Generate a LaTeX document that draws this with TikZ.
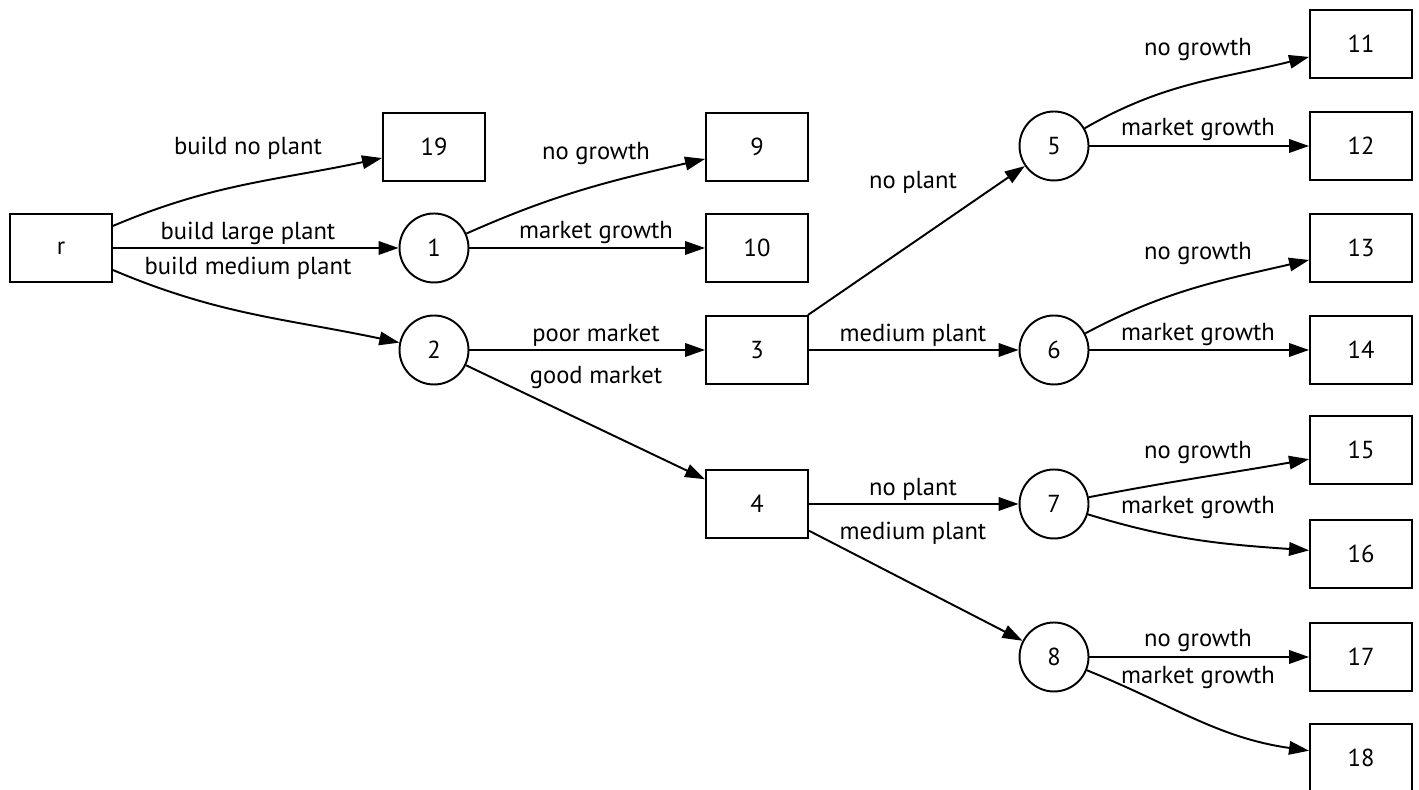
\documentclass[tikz,border=0pt]{standalone}
\usepackage{fontspec}
\setmainfont{PT Sans}
\usetikzlibrary{positioning,arrows.meta}

\begin{document}
\begin{tikzpicture}[x=0.02cm,y=0.02cm,
    font=\fontsize{14}{16}\selectfont,
    line width=1.1pt,
    box/.style={draw, minimum width=2.04cm, minimum height=1.36cm, inner sep=0},
    chance/.style={draw, circle, minimum size=1.38cm, inner sep=0},
    arr/.style={-{Triangle[length=0.4cm,width=0.27cm]}}]

\useasboundingbox (0,0) rectangle (1419,790);

% Root decision
\node[box] (blockr) at (61,542) {r};

% Chance nodes
\node[chance] (block1) at (434,542) {1};
\node[chance] (block2) at (434,440) {2};
\node[chance] (block5) at (1054,644) {5};
\node[chance] (block6) at (1054,440) {6};
\node[chance] (block7) at (1054,286) {7};
\node[chance] (block8) at (1054,133) {8};

% Decision and end blocks
\node[box] (block19) at (434,643) {19};
\node[box] (block9) at (757,643) {9};
\node[box] (block10) at (757,542) {10};
\node[box] (block3) at (757,440) {3};
\node[box] (block4) at (757,286) {4};
\node[box] (block11) at (1361,746) {11};
\node[box] (block12) at (1361,644) {12};
\node[box] (block13) at (1361,542) {13};
\node[box] (block14) at (1361,440) {14};
\node[box] (block15) at (1361,340) {15};
\node[box] (block16) at (1361,236) {16};
\node[box] (block17) at (1361,133) {17};
\node[box] (block18) at (1361,32) {18};

% Edge labels
\node (lab1) at (248,642) {build no plant};
\node (lab2) at (248,557) {build large plant};
\node (lab3) at (248,522) {build medium plant};
\node (lab4) at (596,636) {no growth};
\node (lab5) at (596,557) {market growth};
\node (lab6) at (596,455) {poor market};
\node (lab7) at (596,412) {good market};
\node (lab8) at (913,608) {no plant};
\node (lab9) at (913,455) {medium plant};
\node (lab10) at (913,301) {no plant};
\node (lab11) at (913,257) {medium plant};
\node (lab12) at (1198,740) {no growth};
\node (lab13) at (1198,660) {market growth};
\node (lab14) at (1198,536) {no growth};
\node (lab15) at (1198,455) {market growth};
\node (lab16) at (1198,337) {no growth};
\node (lab17) at (1198,282) {market growth};
\node (lab18) at (1198,149) {no growth};
\node (lab19) at (1198,112) {market growth};

% Arrows
\draw[arr] (blockr) edge[out=23,in=192] (block19)
    (blockr) edge (block1)
    (blockr) edge[out=-23,in=168] (block2)
    (block1) edge[out=24,in=193] (block9)
    (block1) edge (block10)
    (block2) edge (block3)
    (block2) edge (block4)
    (block3) edge (block5)
    (block3) edge (block6)
    (block4) edge (block7)
    (block4) edge (block8)
    (block5) edge[out=30,in=194] (block11)
    (block5) edge (block12)
    (block6) edge[out=28,in=193] (block13)
    (block6) edge (block14)
    (block7) edge[out=11,in=190] (block15)
    (block7) edge[out=-17,in=176] (block16)
    (block8) edge (block17)
    (block8) edge[out=-22,in=172] (block18);

\end{tikzpicture}
\end{document}
